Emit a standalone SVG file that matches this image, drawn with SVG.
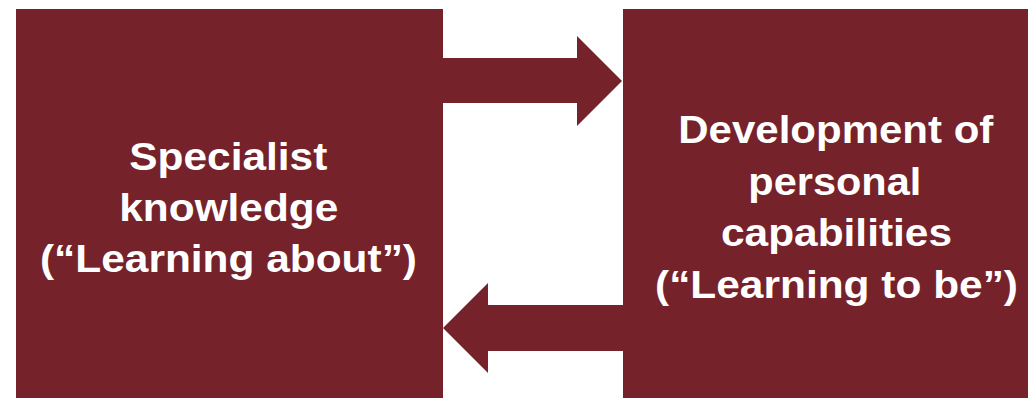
<svg xmlns="http://www.w3.org/2000/svg" width="1028" height="398" viewBox="0 0 1028 398">
<style>
.box{fill:#75222a}
.arr{fill:#75222a}
.lbl{font-family:"Liberation Sans",Arial,sans-serif;font-weight:bold;font-size:38px;fill:#ffffff}
</style>
<rect width="1028" height="398" fill="#ffffff"/>
<g id="node-specialist">
<rect class="box" x="16" y="9" width="427" height="389"/>
<text class="lbl"><tspan x="129.3" y="170" textLength="198" lengthAdjust="spacingAndGlyphs">Specialist</tspan><tspan x="119.3" y="220.5" textLength="219" lengthAdjust="spacingAndGlyphs">knowledge</tspan><tspan x="40" y="271.7" textLength="377" lengthAdjust="spacingAndGlyphs">(“Learning about”)</tspan></text>
</g>
<g id="node-development">
<rect class="box" x="623" y="9" width="405" height="389"/>
<text class="lbl"><tspan x="678.3" y="143.3" textLength="315" lengthAdjust="spacingAndGlyphs">Development of</tspan><tspan x="748.3" y="195" textLength="173" lengthAdjust="spacingAndGlyphs">personal</tspan><tspan x="721" y="245.5" textLength="231" lengthAdjust="spacingAndGlyphs">capabilities</tspan><tspan x="655" y="298.3" textLength="363" lengthAdjust="spacingAndGlyphs">(“Learning to be”)</tspan></text>
</g>
<g id="connectors">
<polygon class="arr" points="443,58 577,58 577,36 622,81 577,126 577,103 443,103"/>
<polygon class="arr" points="623,305 488,305 488,283 443,328 488,373 488,351 623,351"/>
</g>
</svg>
